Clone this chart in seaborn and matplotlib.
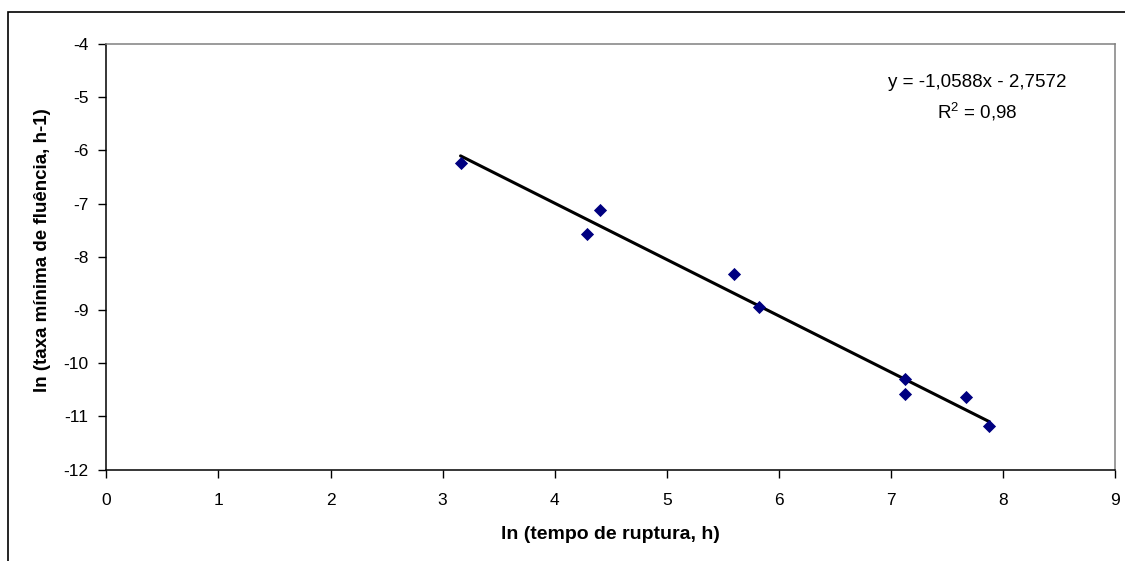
import numpy as np
import pandas as pd
import matplotlib
matplotlib.use("Agg")
import matplotlib.pyplot as plt
import seaborn as sns
from matplotlib.patches import Rectangle

# Data
ln_time = [3.16, 4.29, 4.40, 5.60, 5.82, 7.13, 7.13, 7.67, 7.88]
ln_rate = [-6.23, -7.58, -7.12, -8.32, -8.94, -10.30, -10.58, -10.64, -11.18]
slope = -1.0588
intercept = -2.7572
r2_text = "0,98"
x_ticks = [0, 1, 2, 3, 4, 5, 6, 7, 8, 9]
y_ticks = [-12, -11, -10, -9, -8, -7, -6, -5, -4]

sns.set_theme(style="white")
plt.rcParams['font.family'] = ['Liberation Sans', 'DejaVu Sans']
plt.rcParams['mathtext.fontset'] = 'custom'
plt.rcParams['mathtext.rm'] = 'Liberation Sans'
plt.rcParams['mathtext.it'] = 'Liberation Sans'
for key in ['text.color', 'axes.labelcolor', 'xtick.color', 'ytick.color']:
    plt.rcParams[key] = 'black'

df = pd.DataFrame({"x": ln_time, "y": ln_rate})
fit_x = [min(ln_time), max(ln_time)]
fit = pd.DataFrame({"x": fit_x, "y": [slope * v + intercept for v in fit_x]})

fig = plt.figure(figsize=(11.25, 5.61), dpi=100)
ax = fig.add_axes([0.0946, 0.1629, 0.8965, 0.7587])

sns.lineplot(data=fit, x="x", y="y", ax=ax, color="black", linewidth=2.2, zorder=2)
sns.scatterplot(data=df, x="x", y="y", ax=ax, marker="D", s=45, color="#000080",
                edgecolor="#000080", linewidth=0, zorder=3)

ax.set_xlim(0, 9)
ax.set_ylim(-12, -4)
ax.set_xticks(x_ticks)
ax.set_yticks(y_ticks)
ax.set_xticklabels([str(v) for v in x_ticks])
ax.set_yticklabels([str(v) for v in y_ticks])
ax.tick_params(axis="both", which="major", direction="out", length=6, width=1,
               color="black", labelcolor="black", labelsize=12.5, pad=7,
               bottom=True, left=True)
ax.tick_params(axis="x", pad=11)

for side in ["left", "bottom"]:
    ax.spines[side].set_color("black")
    ax.spines[side].set_linewidth(1.1)
for side in ["top", "right"]:
    ax.spines[side].set_color("#808080")
    ax.spines[side].set_linewidth(1.1)

ax.set_xlabel("ln (tempo de ruptura, h)", fontsize=14, fontweight="bold", labelpad=13,
              color="black")
ax.set_ylabel("ln (taxa mínima de fluência, h-1)", fontsize=13.5, fontweight="bold",
              color="black")
ax.yaxis.set_label_coords(-0.055, 0.515)

ax.text(7.775, -4.72, "y = -1,0588x - 2,7572", ha="center", va="center",
        fontsize=13.5, color="black")
ax.text(7.775, -5.27, r"R$^{2}$ = " + r2_text, ha="center", va="center",
        fontsize=13.5, color="black")

# outer chart frame
frame = Rectangle((8 / 1125, -0.2), 1.2, 1 - 12 / 561 + 0.2, transform=fig.transFigure,
                  fill=False, edgecolor="black", linewidth=1.2, clip_on=False)
fig.patches.append(frame)

fig.savefig("out.png", dpi=100)
